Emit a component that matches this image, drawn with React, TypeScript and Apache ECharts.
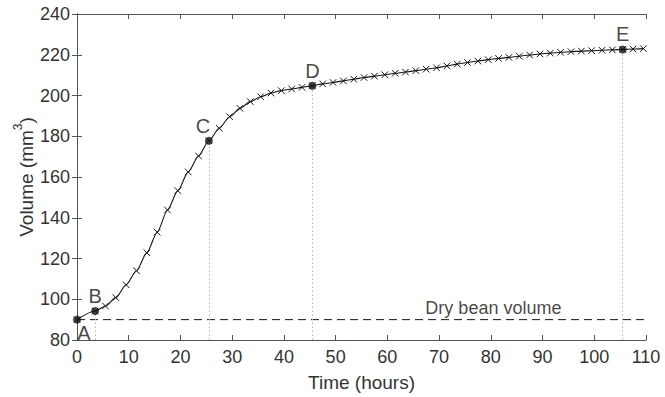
import React, { useEffect, useRef } from "react";
import * as echarts from "echarts";

// Measured bean volume over time (hours -> mm^3)
const hours = [
  0, 3.5, 5.5, 7.5, 9.5, 11.5, 13.5, 15.5, 17.5, 19.5, 21.5, 23.5, 25.5, 27.5,
  29.5, 31.5, 33.5, 35.5, 37.5, 39.5, 41.5, 43.5, 45.5, 47.5, 49.5, 51.5, 53.5,
  55.5, 57.5, 59.5, 61.5, 63.5, 65.5, 67.5, 69.5, 71.5, 73.5, 75.5, 77.5, 79.5,
  81.5, 83.5, 85.5, 87.5, 89.5, 91.5, 93.5, 95.5, 97.5, 99.5, 101.5, 103.5,
  105.5, 107.5, 109.5,
];
const volume = [
  90.0, 94.2, 96.7, 100.8, 107.1, 114.0, 122.8, 132.9, 143.8, 153.3, 162.5,
  170.3, 177.8, 183.9, 189.6, 193.7, 197.0, 199.4, 201.2, 202.4, 203.2, 204.0,
  204.8, 205.7, 206.4, 207.2, 208.0, 208.8, 209.5, 210.2, 210.9, 211.5, 212.2,
  212.9, 213.6, 214.5, 215.4, 216.2, 216.9, 217.6, 218.2, 218.7, 219.3, 219.9,
  220.4, 220.8, 221.2, 221.5, 221.8, 222.0, 222.2, 222.4, 222.6, 222.8, 223.0,
];

// Stage markers A–E (indices into hours/volume)
const stageLabels = ["A", "B", "C", "D", "E"];
const stageIndex = [0, 1, 12, 22, 52];

// Dry bean reference level
const dryVolume = 90;
const dryLabelHour = 80.5;
const dryLabelText = "Dry bean volume";

// Axis ranges
const xRange = { min: 0, max: 110, interval: 10 };
const yRange = { min: 80, max: 240, interval: 20 };

const FONT = "'Liberation Sans', Arial, Helvetica, sans-serif";
const AXIS_COLOR = "#555";
const TEXT_COLOR = "#333";
const INK = "#151515";

export default function App() {
  const ref = useRef<HTMLDivElement>(null);

  useEffect(() => {
    if (!ref.current) return;
    const chart = echarts.init(ref.current, undefined, { renderer: "svg" });

    const baseAxisLine = { show: true, lineStyle: { color: AXIS_COLOR, width: 1 } };
    const baseTick = { show: true, inside: true, length: 5, lineStyle: { color: AXIS_COLOR } };

    const curve = hours.map((h, i) => [h, volume[i]]);

    const labelPlacement: Record<string, any> = {
      A: { position: "bottom", distance: 0, offset: [7, -1] },
      B: { position: "top", distance: 1, offset: [0, 0] },
      C: { position: "top", distance: 1, offset: [-6, 0] },
      D: { position: "top", distance: 1, offset: [0, 0] },
      E: { position: "top", distance: 1, offset: [0, 0] },
    };

    const stagePoints = stageIndex.map((idx, k) => ({
      value: [hours[idx], volume[idx]],
      label: {
        show: true,
        formatter: stageLabels[k],
        fontSize: 20,
        color: INK,
        fontFamily: FONT,
        ...labelPlacement[stageLabels[k]],
      },
    }));

    const dropLines = stageIndex.slice(1).map((idx) => [
      { coord: [hours[idx], yRange.min] },
      { coord: [hours[idx], volume[idx]] },
    ]);

    chart.setOption({
      animation: false,
      backgroundColor: "#fff",
      textStyle: { fontFamily: FONT },
      grid: {
        left: 77,
        right: 19,
        top: 14,
        bottom: 57,
        containLabel: false,
        outerBoundsMode: "none",
      },
      xAxis: [
        {
          type: "value",
          ...xRange,
          name: "Time (hours)",
          nameLocation: "middle",
          nameGap: 33,
          nameTextStyle: { fontSize: 19, color: TEXT_COLOR, fontFamily: FONT },
          axisLine: baseAxisLine,
          axisTick: baseTick,
          axisLabel: { fontSize: 18, color: TEXT_COLOR, margin: 8, fontFamily: FONT },
          splitLine: { show: false },
        },
        {
          type: "value",
          position: "top",
          ...xRange,
          axisLine: baseAxisLine,
          axisTick: baseTick,
          axisLabel: { show: false },
          splitLine: { show: false },
        },
      ],
      yAxis: [
        {
          type: "value",
          ...yRange,
          name: "{a|Volume (mm}{s|3}{a|)}",
          nameLocation: "middle",
          nameGap: 41,
          nameMoveOverlap: false,
          nameTextStyle: {
            color: TEXT_COLOR,
            fontFamily: FONT,
            rich: {
              a: { fontSize: 19, color: TEXT_COLOR, fontFamily: FONT, lineHeight: 24, verticalAlign: "bottom" },
              s: { fontSize: 12, color: TEXT_COLOR, fontFamily: FONT, lineHeight: 24, verticalAlign: "top" },
            },
          },
          axisLine: baseAxisLine,
          axisTick: baseTick,
          axisLabel: { fontSize: 18, color: TEXT_COLOR, margin: 7, fontFamily: FONT },
          splitLine: { show: false },
        },
        {
          type: "value",
          position: "right",
          ...yRange,
          axisLine: baseAxisLine,
          axisTick: baseTick,
          axisLabel: { show: false },
          splitLine: { show: false },
        },
      ],
      series: [
        {
          name: "dry",
          type: "line",
          data: [
            [xRange.min, dryVolume],
            [xRange.max, dryVolume],
          ],
          symbol: "none",
          lineStyle: { color: INK, width: 1, type: [8, 5] },
          silent: true,
          z: 2,
        },
        {
          name: "dryLabel",
          type: "scatter",
          data: [[dryLabelHour, dryVolume]],
          symbolSize: 0,
          label: {
            show: true,
            position: "top",
            distance: 3,
            formatter: dryLabelText,
            fontSize: 18,
            color: INK,
            fontFamily: FONT,
          },
          silent: true,
          z: 3,
        },
        {
          name: "volume",
          type: "line",
          data: curve,
          smooth: 0.25,
          smoothMonotone: "x",
          symbol: "path://M0 0L10 10M10 0L0 10",
          symbolSize: 6.5,
          showAllSymbol: true,
          itemStyle: { color: "none", borderColor: INK, borderWidth: 1 },
          lineStyle: { color: INK, width: 1.1 },
          silent: true,
          z: 4,
        },
        {
          name: "stages",
          type: "scatter",
          data: stagePoints,
          symbol: "circle",
          symbolSize: 8,
          itemStyle: { color: INK },
          markLine: {
            silent: true,
            symbol: ["none", "none"],
            label: { show: false },
            lineStyle: { color: "#b0b0b0", width: 1, type: [1.5, 2.5] },
            data: dropLines,
          },
          silent: true,
          z: 5,
        },
      ],
    });

    return () => chart.dispose();
  }, []);

  return (
    <div
      ref={ref}
      style={{ position: "fixed", left: 0, top: 0, width: 665, height: 397, background: "#fff" }}
    />
  );
}
